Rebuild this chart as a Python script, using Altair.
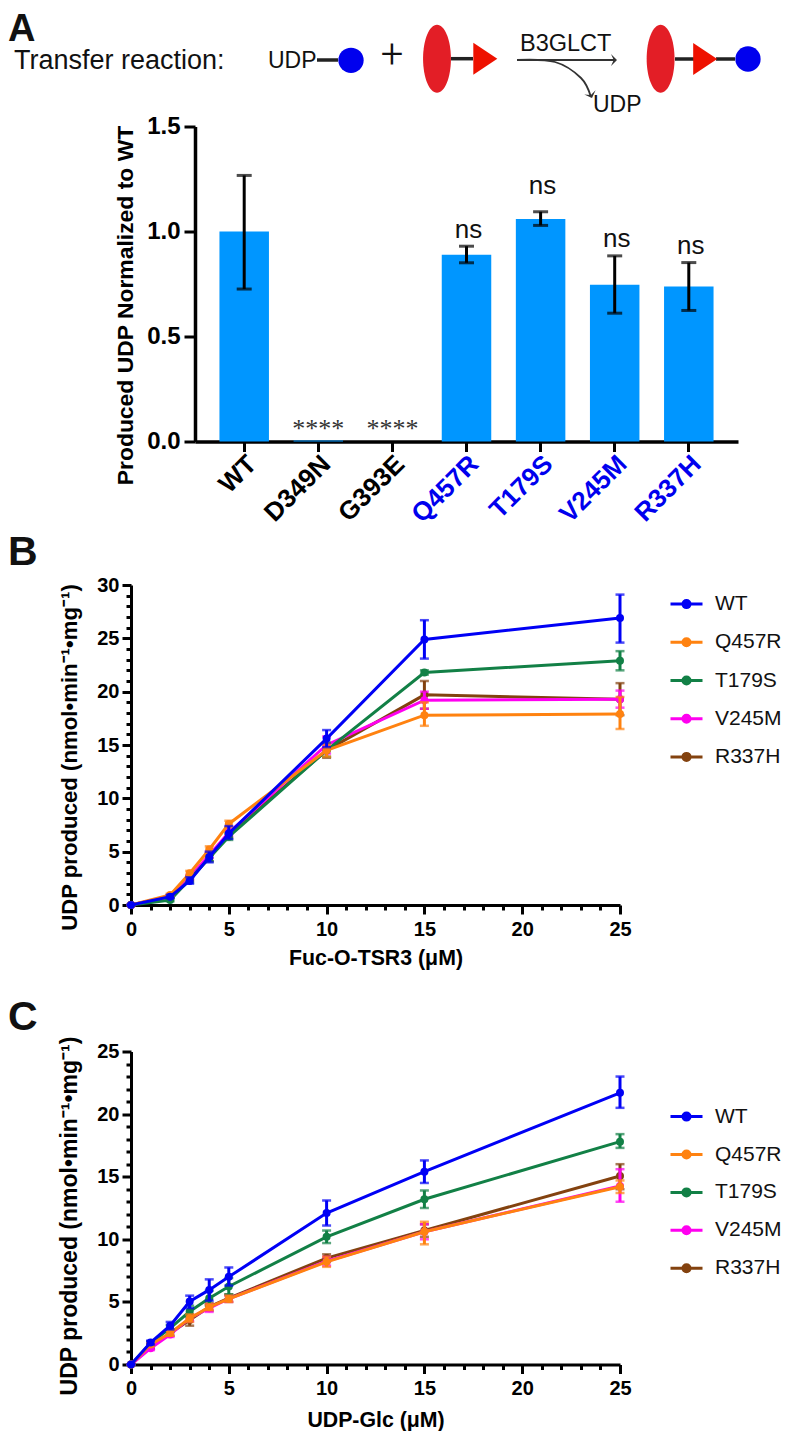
import altair as alt
import pandas as pd

FONT = "Liberation Sans"

# ---------- Panel A ----------
variants = ["WT", "D349N", "G393E", "Q457R", "T179S", "V245M", "R337H"]
bar_values = [1.0, 0.005, 0.0, 0.889, 1.059, 0.746, 0.738]
bar_upper = [1.267, 0.005, 0.0, 0.93, 1.094, 0.884, 0.852]
bar_lower = [0.726, 0.005, 0.0, 0.851, 1.029, 0.611, 0.624]
mutant_labels = ["Q457R", "T179S", "V245M", "R337H"]
note_variants = ["D349N", "G393E", "Q457R", "T179S", "V245M", "R337H"]
note_texts = ["****", "****", "ns", "ns", "ns", "ns"]
note_heights = [0.022, 0.022, 0.971, 1.178, 0.924, 0.894]

# ---------- Panel B ----------
series_names = ["WT", "Q457R", "T179S", "V245M", "R337H"]
series_colors = ["#0000f5", "#ff8210", "#128046", "#ff00f0", "#83420f"]
b_x = [0, 2, 3, 4, 5, 10, 15, 25]
b_y = {
    "WT": [0, 0.78, 2.25, 4.5, 6.7, 15.6, 24.9, 26.9],
    "Q457R": [0, 0.94, 2.97, 5.2, 7.6, 14.5, 17.8, 17.9],
    "T179S": [0, 0.47, 2.4, 4.4, 6.4, 14.5, 21.8, 22.9],
    "V245M": [0, 0.8, 2.6, 4.7, 6.8, 15.0, 19.2, 19.3],
    "R337H": [0, 0.8, 2.5, 4.4, 6.6, 14.5, 19.7, 19.3],
}
b_up = {
    "WT": [0, 0.95, 2.6, 5.0, 7.4, 16.4, 26.7, 29.1],
    "Q457R": [0, 1.05, 3.2, 5.5, 7.9, 15.0, 19.0, 19.5],
    "T179S": [0, 0.6, 2.7, 4.7, 6.7, 15.2, 22.0, 23.8],
    "V245M": [0, 0.9, 2.8, 5.0, 7.1, 15.8, 20.0, 20.1],
    "R337H": [0, 0.9, 2.7, 4.7, 6.9, 15.2, 21.0, 20.8],
}
b_low = {
    "WT": [0, 0.65, 2.0, 4.0, 6.2, 14.8, 23.1, 24.6],
    "Q457R": [0, 0.85, 2.75, 4.9, 7.3, 13.9, 16.8, 16.5],
    "T179S": [0, 0.35, 2.1, 4.1, 6.1, 13.9, 21.6, 22.0],
    "V245M": [0, 0.7, 2.4, 4.4, 6.5, 14.2, 18.4, 18.5],
    "R337H": [0, 0.7, 2.3, 4.1, 6.3, 13.8, 18.4, 17.8],
}

# ---------- Panel C ----------
c_x = [0, 1, 2, 3, 4, 5, 10, 15, 25]
c_y = {
    "WT": [0, 1.76, 3.1, 5.03, 5.96, 7.0, 12.1, 15.4, 21.7],
    "Q457R": [0, 1.6, 2.5, 3.7, 4.58, 5.24, 8.2, 10.6, 14.2],
    "T179S": [0, 1.7, 2.9, 4.23, 5.3, 6.23, 10.2, 13.2, 17.8],
    "V245M": [0, 1.3, 2.4, 3.7, 4.5, 5.25, 8.25, 10.6, 14.26],
    "R337H": [0, 1.4, 2.5, 3.56, 4.6, 5.3, 8.5, 10.7, 15.06],
}
c_up = {
    "WT": [0, 1.9, 3.4, 5.5, 6.8, 7.75, 13.1, 16.3, 23.0],
    "Q457R": [0, 1.7, 2.7, 4.0, 4.8, 5.5, 8.6, 11.4, 14.7],
    "T179S": [0, 1.85, 3.15, 4.7, 5.9, 6.9, 10.7, 13.9, 18.4],
    "V245M": [0, 1.45, 2.6, 3.95, 4.8, 5.5, 8.6, 11.2, 15.6],
    "R337H": [0, 1.55, 2.7, 4.0, 4.9, 5.6, 8.8, 11.2, 16.0],
}
c_low = {
    "WT": [0, 1.6, 2.8, 4.5, 5.1, 6.3, 11.1, 14.5, 20.5],
    "Q457R": [0, 1.5, 2.3, 3.4, 4.35, 5.0, 7.8, 9.6, 13.7],
    "T179S": [0, 1.55, 2.65, 3.8, 4.7, 5.6, 9.7, 12.5, 17.3],
    "V245M": [0, 1.15, 2.2, 3.45, 4.2, 5.0, 7.9, 10.0, 13.0],
    "R337H": [0, 1.25, 2.3, 3.1, 4.3, 5.0, 8.2, 10.2, 14.0],
}

# ---------- Schematic (positions in the schematic's own x/y scale) ----------
sch_text = ["Transfer reaction:", "UDP", "B3GLCT", "UDP"]
sch_text_x = [14, 268, 520, 593]
sch_text_y = [61, 61, 44, 105]
sch_text_size = [27, 23, 23.5, 23]
link_x = [317, 451, 675, 716]
link_x2 = [338, 473, 694, 735]
link_y = [60, 58.7, 59, 59]
ellipse_x = [437, 660.6]
ellipse_y = [58.7, 58.7]
triangle_x = [485.3, 705.2]
triangle_y = [58.7, 59]
dot_x = [351, 748]
dot_y = [60.3, 59]
straight_x = [517, 616]
straight_y = [60, 60]
curve_x = [517, 555, 581, 591]
curve_y = [60, 62, 78, 97]
head_x = [617, 592]
head_y = [60, 98]
head_angle = [0, 70]

ELLIPSE = "M0,-1A0.41,1 0 1,0 0,1A0.41,1 0 1,0 0,-1Z"
TRIANGLE = "M-0.75,-1L0.75,0L-0.75,1Z"
CHEVRON = "M-1,-1L0,0L-1,1L-0.55,0Z"
LEGEND_SYMBOL = ("M-1,0H1M-0.22,0a0.22,0.22 0 1,0 0.44,0a0.22,0.22 0 1,0 -0.44,0Z"
                 "M-0.08,0a0.08,0.08 0 1,0 0.16,0a0.08,0.08 0 1,0 -0.16,0Z")

SCH_TOP, SCH_BOTTOM, ORIGIN_X, RIGHT_X = 8, 118, 131, 775
sx = alt.Scale(domain=[ORIGIN_X, RIGHT_X], nice=False, zero=False)
sy = alt.Scale(domain=[SCH_BOTTOM, SCH_TOP], nice=False, zero=False)


def X(f="x"):
    return alt.X(f"{f}:Q", scale=sx, axis=None)


def Y(f="y"):
    return alt.Y(f"{f}:Q", scale=sy, axis=None)


def table(**k):
    return pd.DataFrame(k)


sch_layers = [
    alt.Chart(table(x=link_x, x2=link_x2, y=link_y)).mark_rule(color="#222222", strokeWidth=3.5).encode(X(), x2="x2:Q", y=Y()),
    alt.Chart(table(x=ellipse_x, y=ellipse_y)).mark_point(shape=ELLIPSE, filled=True, color="#e31e26", size=4624, opacity=1).encode(X(), Y()),
    alt.Chart(table(x=triangle_x, y=triangle_y)).mark_point(shape=TRIANGLE, filled=True, color="#ee1100", size=1024, opacity=1).encode(X(), Y()),
    alt.Chart(table(x=dot_x, y=dot_y)).mark_point(shape="circle", filled=True, color="#0000ee", size=640, opacity=1).encode(X(), Y()),
    alt.Chart(table(x=straight_x, y=straight_y)).mark_line(color="#333333", strokeWidth=1.8).encode(X(), Y()),
    alt.Chart(table(x=curve_x, y=curve_y)).mark_line(color="#333333", strokeWidth=1.8, interpolate="cardinal").encode(X(), Y(), order=alt.Order("x:Q")),
    alt.Chart(table(x=head_x, y=head_y, a=head_angle)).mark_point(shape=CHEVRON, filled=True, color="#333333", size=144, opacity=1).encode(X(), Y(), angle=alt.Angle("a:Q", scale=None)),
    alt.Chart(table(x=sch_text_x, y=sch_text_y, t=sch_text, s=sch_text_size)).mark_text(align="left", baseline="middle", font=FONT, color="#111111").encode(
        X(), Y(), text="t:N", size=alt.Size("s:Q", scale=None, legend=None)),
    alt.Chart(table(x=[392], y=[56], t=["+"])).mark_text(align="center", baseline="middle", font="Roboto", fontWeight=300, fontSize=40, color="#111111").encode(X(), Y(), text="t:N"),
    alt.Chart(table(x=[8], y=[41.4], t=["A"])).mark_text(align="left", baseline="alphabetic", font=FONT, fontWeight="bold", fontSize=38, color="#111111").encode(X(), Y(), text="t:N"),
]
schematic = alt.layer(*sch_layers).properties(width=RIGHT_X - ORIGIN_X, height=SCH_BOTTOM - SCH_TOP)

# ---------- Panel A chart ----------
a_df = table(v=variants, y=bar_values, up=bar_upper, low=bar_lower)
a_err = a_df[a_df.up > a_df.low]
a_x_axis = alt.Axis(
    labelAngle=-45, labelAlign="right", labelBaseline="middle", labelFont=FONT, labelFontWeight="bold",
    labelFontSize=26, labelPadding=8, labelOffset=8, tickSize=10, tickWidth=3, tickColor="black", domainColor="black",
    domainWidth=3.5, labelColor={"condition": {"test": "indexof(%r, datum.value) >= 0" % mutant_labels, "value": "#0000ee"}, "value": "black"},
)
a_xscale = alt.Scale(domain=variants, range=[64, 607], paddingInner=0.332, paddingOuter=0.33)
a_yscale = alt.Scale(domain=[0, 1.5], nice=False)
a_y_axis = alt.Axis(
    values=[0, 0.5, 1.0, 1.5], format=".1f", offset=-64,
    titleFont=FONT, titleFontWeight="bold", titleFontSize=22.9, titleColor="black", titlePadding=9, titleY=178.5,
    labelFont=FONT, labelFontWeight="bold", labelFontSize=24, labelColor="black", labelPadding=4,
    tickSize=11, tickWidth=3, tickColor="black", domainColor="black", domainWidth=3.5, grid=False,
)
A_TITLE = "Produced UDP Normalized to WT"


def ax():
    return alt.X("v:N", sort=variants, title=None, scale=a_xscale, axis=a_x_axis)


def ay(f):
    return alt.Y(f"{f}:Q", title=A_TITLE, scale=a_yscale, axis=a_y_axis)


a_bars = alt.Chart(a_df).mark_bar(color="#0096ff", size=49.5).encode(ax(), ay("y"))
a_rule = alt.Chart(a_err).mark_rule(color="black", strokeWidth=3).encode(ax(), ay("low"), alt.Y2("up:Q"))
a_cap1 = alt.Chart(a_err).mark_tick(color="black", thickness=3, size=15, orient="horizontal").encode(ax(), ay("up"))
a_cap2 = alt.Chart(a_err).mark_tick(color="black", thickness=3, size=15, orient="horizontal").encode(ax(), ay("low"))
n_df = table(v=note_variants, y=note_heights, t=note_texts)
a_ns = alt.Chart(n_df[n_df.t == "ns"]).mark_text(font=FONT, fontSize=26, baseline="alphabetic", color="#111111", dx=2).encode(ax(), ay("y"), text="t:N")
a_st = alt.Chart(n_df[n_df.t != "ns"]).mark_text(font="Liberation Serif", fontSize=26, baseline="alphabetic", color="#333333").encode(ax(), ay("y"), text="t:N")
panel_a = alt.layer(a_bars, a_rule, a_cap1, a_cap2, a_ns, a_st).properties(width=607, height=315)


# ---------- Line panels ----------
def line_panel(xs, ys, ups, lows, x_title, y_max, height, letter, letter_y, spacer_y, leg_y, row_pad, title_pad, y_title_y, y_title_size):
    major = "datum.value % 5 == 0"
    xscale = alt.Scale(domain=[0, 25], nice=False)
    yscale = alt.Scale(domain=[0, y_max], nice=False)
    cscale = alt.Scale(domain=series_names, range=series_colors)
    common = dict(
        labelExpr=f"{major} ? datum.label : ''", labelOverlap=False, labelFlush=False,
        labelFont=FONT, labelFontWeight="bold", labelFontSize=20, labelColor="black",
        tickSize={"condition": {"test": major, "value": 9}, "value": 5}, tickWidth=3, tickColor="black",
        domainColor="black", domainWidth=3, grid=False,
        titleFont=FONT, titleFontWeight="bold", titleColor="black",
    )
    x_axis = alt.Axis(values=list(range(0, 26)), labelPadding=5, titleFontSize=21.3, titlePadding=title_pad, **common)
    y_axis = alt.Axis(values=list(range(0, y_max + 1)), labelPadding=3, titleFontSize=y_title_size, titlePadding=15, titleY=y_title_y, **common)
    y_title = "UDP produced (nmol•min⁻¹•mg⁻¹)"
    px = alt.X("x:Q", scale=xscale, title=x_title, axis=x_axis)

    def py(f):
        return alt.Y(f"{f}:Q", scale=yscale, title=y_title, axis=y_axis)

    legend = alt.Legend(
        title=None, orient="none", legendX=538, legendY=leg_y, symbolType=LEGEND_SYMBOL, symbolSize=1024,
        symbolStrokeWidth=3, labelFont=FONT, labelFontSize=21, labelColor="#111111", labelOffset=11, rowPadding=row_pad,
        labelLimit=200, padding=0,
    )
    layers = []
    for name, col in reversed(list(zip(series_names, series_colors))):
        d = table(x=xs, y=ys[name], up=ups[name], low=lows[name], s=[name] * len(xs))
        base = alt.Chart(d)
        layers += [
            base.mark_rule(color=col, strokeWidth=3).encode(px, py("low"), alt.Y2("up:Q")),
            base.mark_tick(color=col, thickness=2.5, size=9, orient="horizontal").encode(px, py("up")),
            base.mark_tick(color=col, thickness=2.5, size=9, orient="horizontal").encode(px, py("low")),
            base.mark_line(strokeWidth=3).encode(px, py("y"), color=alt.Color("s:N", scale=cscale, legend=legend)),
            base.mark_point(filled=True, color=col, size=64, opacity=1).encode(px, py("y")),
        ]
    lab = alt.Chart(table(t=[letter])).mark_text(align="left", baseline="alphabetic", font=FONT, fontWeight="bold", fontSize=41, color="#111111").encode(
        x=alt.value(-123), y=alt.value(letter_y), text="t:N")
    spacer = alt.Chart(table(t=[letter])).mark_point(opacity=0, size=1).encode(x=alt.value(0), y=alt.value(spacer_y))
    layers += [lab, spacer]
    return alt.layer(*layers).properties(width=489, height=height)


panel_b = line_panel(b_x, b_y, b_up, b_low, "Fuc-O-TSR3 (μM)", 30, 320, "B", -20, -60, 1.6, 10.2, 8, 172, 22.2)
panel_c = line_panel(c_x, c_y, c_up, c_low, "UDP-Glc (μM)", 25, 313, "C", -22, -85, 47.6, 9.9, 11, 164, 23)

chart = (
    alt.vconcat(schematic, panel_a, panel_b, panel_c, spacing=-3.5)
    .resolve_scale(color="independent")
    .resolve_legend(color="independent")
    .properties(padding=0)
    .configure_view(stroke=None)
)

chart.save("out.html", embed_options={"renderer": "svg", "actions": False})
